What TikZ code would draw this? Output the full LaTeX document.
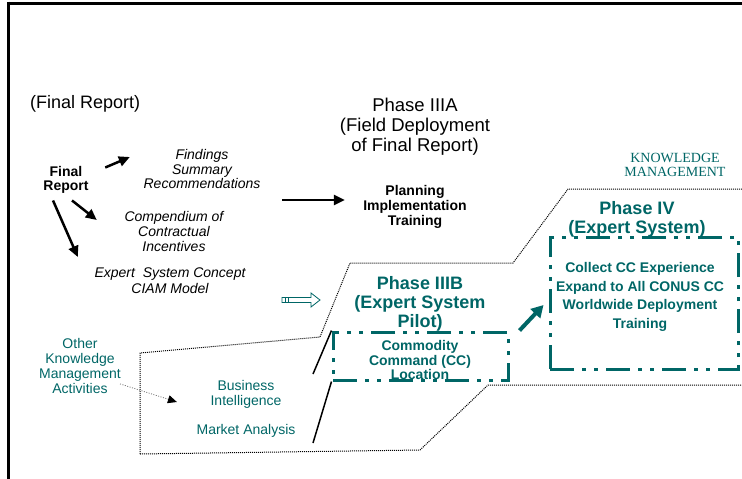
\documentclass[tikz,border=0pt]{standalone}
\usepackage{fontspec}
\setmainfont{Liberation Sans}
\newfontfamily\kmfont{Liberation Serif}
\usetikzlibrary{arrows.meta}
\definecolor{kmteal}{RGB}{0,102,102}

\tikzset{
  txt/.style={align=center, inner sep=0pt},
  plain/.style={txt, font=\fontsize{18.5}{20}\selectfont},
  itl/.style={txt, font=\fontsize{14}{15}\selectfont\itshape},
  bld/.style={txt, font=\fontsize{14}{14.5}\selectfont\bfseries},
  phase/.style={txt, text=kmteal, font=\fontsize{18}{19}\selectfont\bfseries},
  tealtxt/.style={txt, text=kmteal, font=\fontsize{14}{14.7}\selectfont},
  ddbox/.style={draw=kmteal, line width=3pt, inner sep=0pt,
    dash pattern=on 24pt off 8pt on 4pt off 8pt on 4pt off 8pt},
  blkarrow/.style={line width=2.5pt, -{Triangle[length=11pt,width=10pt]}},
  tealarrow/.style={kmteal, line width=4pt, -{Triangle[length=12pt,width=13pt]}},
  dotarrow/.style={black!55, line width=0.8pt, dash pattern=on 1pt off 1.5pt,
    -{Triangle[length=9pt,width=8pt,color=black]}},
  kmline/.style={line width=1pt, dash pattern=on 1pt off 1pt},
}

\begin{document}
\begin{tikzpicture}[x=1pt, y=-1pt]
	\useasboundingbox (0,0) rectangle (742,479);

	% frame
	\draw[line width=3pt] (7,3) -- (742,3);
	\draw[line width=3pt] (8.5,1.5) -- (8.5,479);

	% knowledge management outline
	\draw[kmline] (140,454) -- (140,353) -- (320,337) -- (350,263) -- (513,263) -- (568,189) -- (742,189);
	\draw[kmline] (140,454) -- (420,450) -- (488,385) -- (742,385);

	% final report
	\node[plain, font=\fontsize{18}{20}\selectfont, anchor=west] (frtitle) at (30,104) {(Final Report)};
	\node[bld] (fr) at (66,180) {Final\\Report};
	\node[itl, font=\fontsize{14}{14.5}\selectfont\itshape] (find) at (202,169) {Findings\\Summary\\Recommendations};
	\node[itl] (comp) at (174,231) {Compendium of\\Contractual\\Incentives};
	\node[itl, font=\fontsize{14}{16}\selectfont\itshape] (expc) at (170,281) {Expert\ \ System Concept\\CIAM Model};

	\draw[blkarrow] ([xshift=16.5pt,yshift=-1.5pt]fr.north east) -- ([xshift=-13.6pt,yshift=12pt]find.west);
	\draw[blkarrow] ([xshift=6pt,yshift=-6.5pt]fr.south) -- ([xshift=-27.6pt,yshift=11pt]comp.west);
	\draw[blkarrow] ([xshift=-13pt,yshift=-6.5pt]fr.south) -- ([xshift=-16.5pt,yshift=24pt]expc.west);

	% phase IIIA
	\node[plain] (p3a) at (415,127) {Phase IIIA\\(Field Deployment\\of Final Report)};
	\node[bld, font=\fontsize{14}{15}\selectfont\bfseries] (pit) at (415,207) {Planning\\Implementation\\Training};
	\draw[blkarrow] ([xshift=21.6pt,yshift=-31pt]find.east) -- ([xshift=-18.3pt,yshift=7pt]pit.west);

	% hollow arrow
	\draw[kmteal, line width=0.8pt, fill=white] (282,297.5) -- (311,297.5) -- (311,293) -- (320,300)
		-- (311,307) -- (311,302.5) -- (282,302.5) -- cycle;
	\draw[kmteal, line width=0.8pt] (285,297.5) -- (285,302.5) (288,297.5) -- (288,302.5);

	% phase IIIB
	\node[phase] (p3b) at (420,304) {Phase IIIB\\(Expert System\\Pilot)};
	\node[ddbox, minimum width=175pt, minimum height=48pt] (ccbox) at (420.5,356) {};
	\node[bld, text=kmteal] (cc) at (420,360) {Commodity\\Command (CC)\\Location};

	\coordinate (ln1) at (313,374);
	\coordinate (ln2) at (313,443);
	\draw[line width=1.5pt] (ccbox.north west) -- (ln1);
	\draw[line width=1.5pt] (ccbox.south west) -- (ln2);

	% phase IV
	\node[txt, text=kmteal, font=\kmfont\fontsize{14}{14}\selectfont] (km) at (675,165) {KNOWLEDGE\\MANAGEMENT};
	\node[phase] (p4) at (637,219.5) {Phase IV\\(Expert System)};
	\node[ddbox, minimum width=188pt, minimum height=132pt] (p4box) at (644,303) {};
	\node[txt, text=kmteal, font=\fontsize{14}{18.7}\selectfont\bfseries] (p4txt) at (640,297)
		{Collect CC Experience\\Expand to All CONUS CC\\Worldwide Deployment\\Training};
	\draw[tealarrow] ([xshift=10pt]ccbox.north east) -- ([xshift=-5pt,yshift=-2pt]p4box.west);

	% other activities
	\node[tealtxt] (okm) at (80,366) {Other\\Knowledge\\Management\\Activities};
	\node[tealtxt, font=\fontsize{14}{15}\selectfont] (bi) at (246,394) {Business\\Intelligence};
	\node[tealtxt] (ma) at (246,431) {Market Analysis};
	\draw[dotarrow] ([xshift=-1pt,yshift=9.5pt]okm.south east) -- ([xshift=-33.5pt,yshift=-8pt]bi.west);

\end{tikzpicture}
\end{document}
